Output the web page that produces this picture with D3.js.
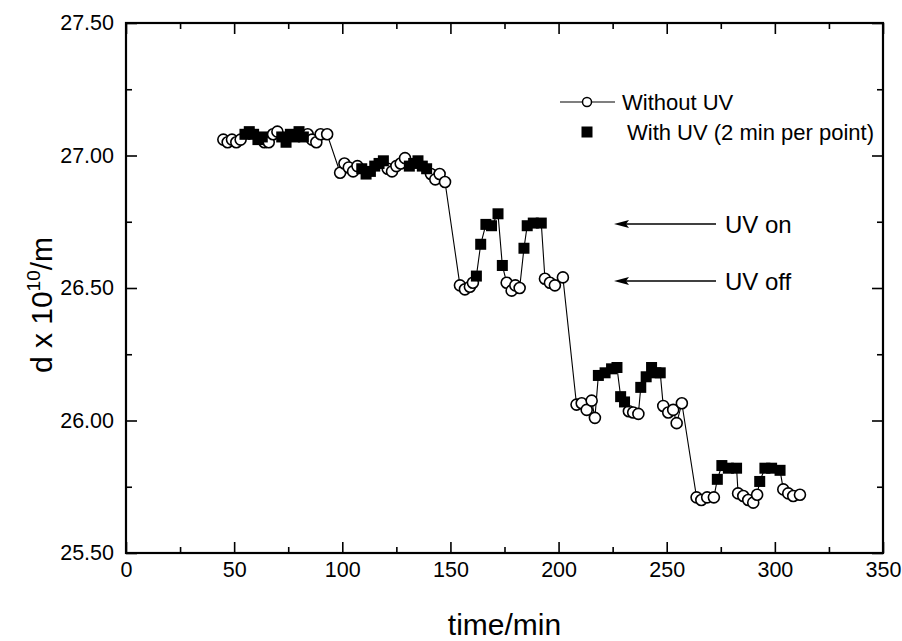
<!DOCTYPE html>
<html>
<head>
<meta charset="utf-8">
<script src="https://cdn.jsdelivr.net/npm/d3@7"></script>
<style>
  body { margin: 0; background: #fff; }
  svg { display: block; font-family: 'Liberation Sans', Arial, Helvetica, sans-serif; }
</style>
</head>
<body>
<svg id="chart" width="902" height="641"></svg>
<script>
// === DATA ===
// [time/min, d x 1e10 / m]
const withoutUV = [
    [45, 27.06], [47, 27.05], [49, 27.06], [51, 27.05], [53, 27.06],
    [64, 27.05], [66, 27.05], [68, 27.08], [70, 27.09],
    [84, 27.08], [86, 27.06], [88, 27.05], [90, 27.08], [93, 27.08],
    [99, 26.935], [101, 26.97], [103, 26.955], [105, 26.94], [107, 26.96],
    [121, 26.95], [123, 26.94], [125, 26.96], [127, 26.97], [129, 26.99],
    [141, 26.93], [143, 26.91], [145, 26.93], [147.5, 26.90],
    [154.4, 26.51], [156.7, 26.495], [159, 26.505], [160.4, 26.52],
    [176, 26.52], [178.3, 26.49], [180, 26.51], [182, 26.50],
    [193.7, 26.535], [196, 26.52], [198.3, 26.51], [202, 26.54],
    [208.3, 26.06], [210.7, 26.065], [213, 26.04], [215.3, 26.075], [216.8, 26.01],
    [232.5, 26.035], [234.5, 26.03], [236.9, 26.025],
    [248.4, 26.055], [250.7, 26.03], [253, 26.04], [254.6, 25.99], [257, 26.065],
    [263.8, 25.71], [266, 25.70], [268.7, 25.71], [271.8, 25.71],
    [283, 25.725], [285.4, 25.715], [287.7, 25.70], [290, 25.69], [291.8, 25.72],
    [303.9, 25.74], [306.2, 25.725], [308.5, 25.715], [311.6, 25.72]
]

const withUV = [
    [55, 27.08], [57, 27.09], [59, 27.08], [61, 27.06], [63, 27.07],
    [72, 27.07], [74, 27.05], [76, 27.08], [78, 27.07], [80, 27.09], [82, 27.07],
    [109, 26.95], [111, 26.93], [113, 26.94], [115, 26.96], [117, 26.97], [119, 26.98],
    [131, 26.96], [133, 26.97], [135, 26.98], [137, 26.96], [139, 26.95],
    [162, 26.545], [164, 26.665], [166.4, 26.74], [169, 26.735], [172, 26.78], [174, 26.585],
    [184, 26.65], [185.5, 26.735], [188.3, 26.745], [192, 26.745],
    [218.4, 26.17], [221.5, 26.18], [224.5, 26.195], [227, 26.2], [228.7, 26.09], [230.5, 26.07],
    [238, 26.125], [240.5, 26.165], [243, 26.2], [245, 26.18], [247, 26.18],
    [273.4, 25.778], [275.5, 25.83], [278.5, 25.82], [282.3, 25.82],
    [293, 25.77], [295.4, 25.82], [298.5, 25.82], [302.4, 25.812]
]

const xTicks = [0, 50, 100, 150, 200, 250, 300, 350]
const xMinor = [25, 75, 125, 175, 225, 275, 325]
const yTicks = [25.5, 26, 26.5, 27, 27.5]
const yMinor = [25.75, 26.25, 26.75, 27.25]

// === LAYOUT ===
const W = 902, H = 641
const margin = { top: 23, right: 19, bottom: 88, left: 126 }
const FONT = "'Liberation Sans', Arial, Helvetica, sans-serif"

const svg = d3.select('#chart')

const x = d3.scaleLinear().domain([0, 350]).range([margin.left, W - margin.right])
const y = d3.scaleLinear().domain([25.5, 27.5]).range([H - margin.bottom, margin.top])

// === AXES ===
const styleAxis = (g, size) => {
    g.select('.domain').remove()
    g.attr('font-family', FONT).attr('font-size', size)
    g.selectAll('line').attr('stroke', '#000').attr('stroke-width', 1.6)
    g.selectAll('text').attr('fill', '#000')
}

const addAxis = (axis, transform, fontSize = 21.5) =>
    svg.append('g').attr('transform', transform).call(axis).call(g => styleAxis(g, fontSize))

// bottom
addAxis(d3.axisBottom(x).tickValues(xTicks).tickSize(-11).tickPadding(9).tickFormat(d3.format('d')),
    `translate(0,${y(25.5)})`)
addAxis(d3.axisBottom(x).tickValues(xMinor).tickSize(-6).tickFormat(''), `translate(0,${y(25.5)})`)
// top
addAxis(d3.axisTop(x).tickValues(xTicks).tickSize(-11).tickFormat(''), `translate(0,${y(27.5)})`)
addAxis(d3.axisTop(x).tickValues(xMinor).tickSize(-6).tickFormat(''), `translate(0,${y(27.5)})`)
// left
addAxis(d3.axisLeft(y).tickValues(yTicks).tickSize(-11).tickPadding(12).tickFormat(d3.format('.2f')),
    `translate(${x(0)},0)`)
addAxis(d3.axisLeft(y).tickValues(yMinor).tickSize(-6).tickFormat(''), `translate(${x(0)},0)`)
// right
addAxis(d3.axisRight(y).tickValues(yTicks).tickSize(-11).tickFormat(''), `translate(${x(350)},0)`)
addAxis(d3.axisRight(y).tickValues(yMinor).tickSize(-6).tickFormat(''), `translate(${x(350)},0)`)

// frame
svg.append('rect')
    .attr('x', x(0)).attr('y', y(27.5))
    .attr('width', x(350) - x(0)).attr('height', y(25.5) - y(27.5))
    .attr('fill', 'none').attr('stroke', '#000').attr('stroke-width', 2.2)

// axis titles
svg.append('text')
    .attr('x', (x(0) + x(350)) / 2).attr('y', 635)
    .attr('text-anchor', 'middle')
    .attr('font-family', FONT).attr('font-size', 30)
    .text('time/min')

const yTitle = svg.append('text')
    .attr('transform', `translate(52,305) rotate(-90)`)
    .attr('text-anchor', 'middle')
    .attr('font-family', FONT).attr('font-size', 30)
yTitle.append('tspan').text('d x 10')
yTitle.append('tspan').attr('dy', -12).attr('font-size', 19).text('10')
yTitle.append('tspan').attr('dy', 12).text('/m')

// === SERIES ===
const all = withoutUV.concat(withUV).sort((a, b) => a[0] - b[0])

const line = d3.line().x(d => x(d[0])).y(d => y(d[1]))

svg.append('path')
    .datum(all)
    .attr('d', line)
    .attr('fill', 'none')
    .attr('stroke', '#000')
    .attr('stroke-width', 1.1)

const SQ = 11

svg.append('g').selectAll('circle')
    .data(withoutUV)
    .join('circle')
    .attr('cx', d => x(d[0]))
    .attr('cy', d => y(d[1]))
    .attr('r', 5.5)
    .attr('fill', '#fff')
    .attr('stroke', '#000')
    .attr('stroke-width', 1.6)

svg.append('g').selectAll('rect')
    .data(withUV)
    .join('rect')
    .attr('x', d => x(d[0]) - SQ / 2)
    .attr('y', d => y(d[1]) - SQ / 2)
    .attr('width', SQ)
    .attr('height', SQ)
    .attr('fill', '#000')

// === LEGEND ===
const leg = svg.append('g').attr('font-family', FONT).attr('font-size', 22)

leg.append('line')
    .attr('x1', 560).attr('x2', 615).attr('y1', 102).attr('y2', 102)
    .attr('stroke', '#000').attr('stroke-width', 1.1)
leg.append('circle')
    .attr('cx', 587).attr('cy', 102).attr('r', 4.5)
    .attr('fill', '#fff').attr('stroke', '#000').attr('stroke-width', 1.5)
leg.append('text').attr('x', 622).attr('y', 110).text('Without UV')

leg.append('rect')
    .attr('x', 587 - SQ / 2).attr('y', 132 - SQ / 2)
    .attr('width', SQ).attr('height', SQ).attr('fill', '#000')
leg.append('text').attr('x', 627).attr('y', 140).text('With UV (2 min per point)')

// === ANNOTATIONS ===
const notes = [
    { label: 'UV on', y: 224 },
    { label: 'UV off', y: 281 }
]

notes.forEach(n => {
    svg.append('line')
        .attr('x1', 716).attr('x2', 624).attr('y1', n.y).attr('y2', n.y)
        .attr('stroke', '#000').attr('stroke-width', 1.6)
    svg.append('path')
        .attr('d', `M614,${n.y} L629,${n.y - 4} L626,${n.y} L629,${n.y + 4} Z`)
        .attr('fill', '#000')
    svg.append('text')
        .attr('x', 725).attr('y', n.y + 9)
        .attr('font-family', FONT).attr('font-size', 24)
        .text(n.label)
})
</script>
</body>
</html>
